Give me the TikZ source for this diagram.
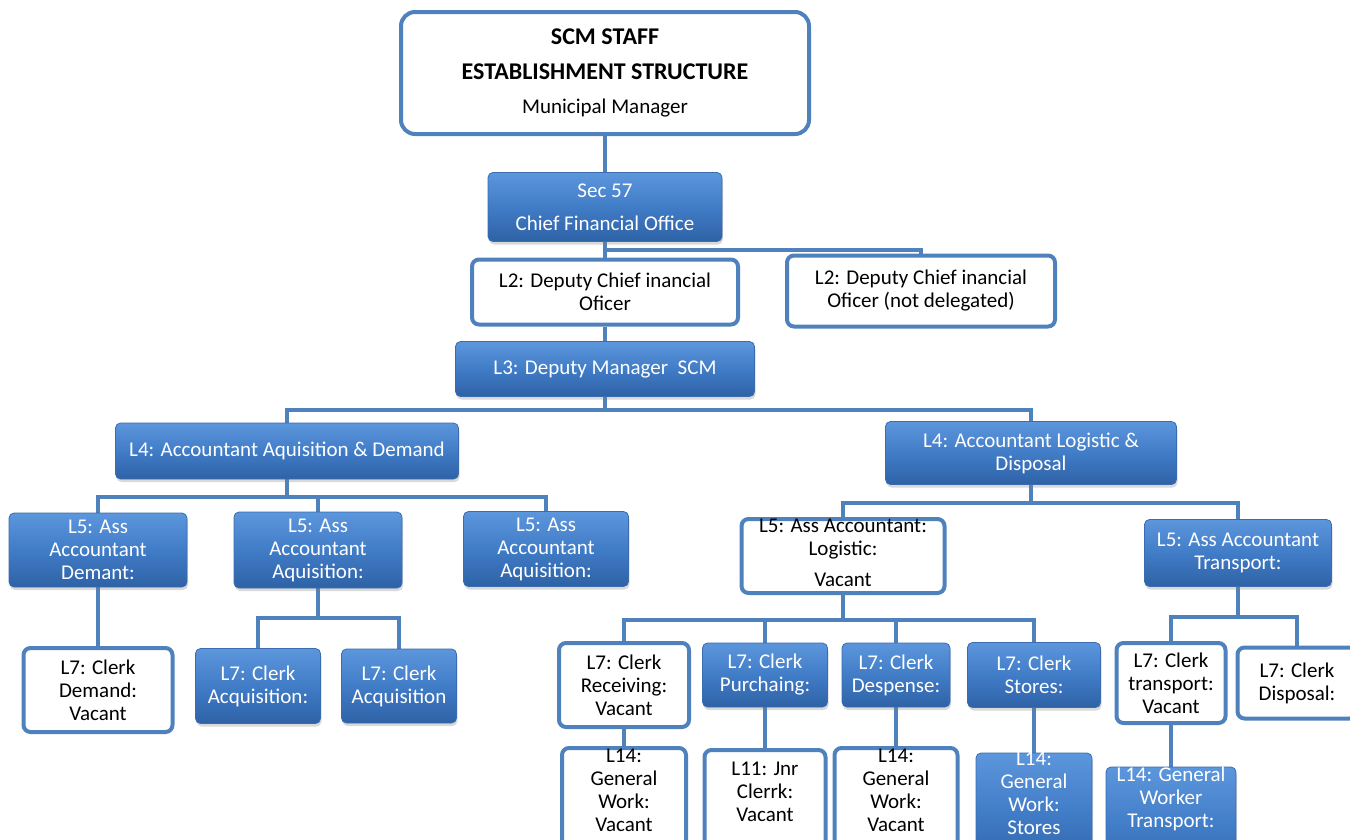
\documentclass[tikz,border=0pt]{standalone}
\usepackage{fontspec}
\setmainfont{Carlito}
\usetikzlibrary{shadows,backgrounds}
\definecolor{orgline}{RGB}{79,129,189}
\definecolor{orgtop}{RGB}{92,150,220}
\definecolor{orgmid}{RGB}{65,124,199}
\definecolor{orgbot}{RGB}{46,98,166}
\definecolor{orgedge}{RGB}{58,108,175}
\tikzset{
  wbox/.style={draw=orgline, line width=4pt, fill=white, rounded corners=7pt, align=center, inner sep=2pt},
  bbox/.style={draw=orgedge, line width=0.8pt, top color=orgtop, bottom color=orgbot, middle color=orgmid, text=white,
    rounded corners=5pt, align=center, inner sep=2pt,
    drop shadow={shadow xshift=1pt, shadow yshift=-3pt, opacity=0.3}},
  link/.style={draw=orgline, line width=4.5pt},
  lbl/.style={align=center, inner sep=0pt},
}
\begin{document}
\begin{tikzpicture}[x=1pt,y=-1pt,font=\fontsize{21}{23}\selectfont]
        \useasboundingbox (0,0) rectangle (1350,839);
        \clip (0,0) rectangle (1350,839);
        \node[wbox, rounded corners=14pt, minimum width=408, minimum height=122, font=\fontsize{24}{34.5}\selectfont] (mm) at (605,73)
            {\textbf{SCM STAFF}\\\textbf{ESTABLISHMENT STRUCTURE}\\{\fontsize{21}{34.5}\selectfont Municipal Manager}};
        \node[bbox, minimum width=234, minimum height=69, font=\fontsize{21}{33}\selectfont] (cfo) at (605,207) {Sec 57\\Chief Financial Office};
        \node[wbox, minimum width=266, minimum height=65] (dcfo) at (605,292) {L2: Deputy Chief inancial\\Oficer};
        \node[wbox, minimum width=268, minimum height=71] (dcfond) at (921,291) {L2: Deputy Chief inancial\\Oficer (not delegated)};
        \node[bbox, minimum width=299, minimum height=55] (dmscm) at (605,369) {L3: Deputy Manager\ \ SCM};
        \node[bbox, minimum width=343, minimum height=56] (acqdem) at (287,451) {L4: Accountant Aquisition \& Demand};
        \node[bbox, minimum width=291, minimum height=63] (logdis) at (1031,453) {L4: Accountant Logistic \&\\Disposal};
        \node[bbox, minimum width=178, minimum height=74] (asdem) at (98,550) {L5: Ass\\Accountant\\Demant:};
        \node[bbox, minimum width=168, minimum height=76] (asacq) at (318,550) {L5: Ass\\Accountant\\Aquisition:};
        \node[bbox, minimum width=165, minimum height=75] (asacqb) at (546,549) {L5: Ass\\Accountant\\Aquisition:};
        \node[wbox, minimum width=149, minimum height=84] (ckdem) at (98,690) {L7: Clerk\\Demand:\\Vacant};
        \node[bbox, minimum width=125, minimum height=75] (ckacq) at (258,686) {L7: Clerk\\Acquisition:};
        \node[bbox, minimum width=115, minimum height=74] (ckacqb) at (399,686) {L7: Clerk\\Acquisition};
        \node[wbox, minimum width=203, minimum height=74] (aslog) at (843,556) {};
        \node[lbl] (aslogt) at (843,553) {L5: Ass Accountant:\\Logistic:\\[8pt]Vacant};
        \node[bbox, minimum width=187, minimum height=67] (astrn) at (1238,553) {L5: Ass Accountant\\Transport:};
        \node[wbox, minimum width=130, minimum height=84] (ckrec) at (624,685) {L7: Clerk\\Receiving:\\Vacant};
        \node[bbox, minimum width=125, minimum height=64] (ckpur) at (765,675) {L7: Clerk\\Purchaing:};
        \node[bbox, minimum width=108, minimum height=64] (ckdes) at (896,675) {L7: Clerk\\Despense:};
        \node[bbox, minimum width=133, minimum height=65] (ckst) at (1034,675) {L7: Clerk\\Stores:};
        \node[wbox, minimum width=109, minimum height=80] (cktrn) at (1171,683) {L7: Clerk\\transport:\\Vacant};
        \node[wbox, minimum width=119, minimum height=71] (ckdis) at (1297,683) {L7: Clerk\\Disposal:};
        \node[wbox, minimum width=124, minimum height=120] (gwrec) at (624,808) {};
        \node[lbl] (gwrect) at (624,790) {L14:\\General\\Work:\\Vacant};
        \node[wbox, minimum width=121, minimum height=120] (jnr) at (765,810) {};
        \node[lbl] (jnrt) at (765,792) {L11: Jnr\\Clerrk:\\Vacant};
        \node[wbox, minimum width=123, minimum height=120] (gwdes) at (896,808) {};
        \node[lbl] (gwdest) at (896,790) {L14:\\General\\Work:\\Vacant};
        \node[bbox, minimum width=116, minimum height=120] (gwst) at (1034,813) {};
        \node[lbl, text=white] (gwstt) at (1034,793) {L14:\\General\\Work:\\Stores};
        \node[bbox, minimum width=130, minimum height=120] (gwtr) at (1171,827) {};
        \node[lbl, text=white] (gwtrt) at (1171,799) {L14: General\\Worker\\Transport:};
        \coordinate (j1) at (0,250);
        \coordinate (j2) at (0,410);
        \coordinate (j3) at (0,497);
        \coordinate (j4) at (0,503);
        \coordinate (j5) at (0,618);
        \coordinate (j6) at (0,620);
        \coordinate (j7) at (0,617);
        \begin{scope}[on background layer]
            \draw[link] (mm.south) -- (cfo.north);
            \draw[link] (cfo.south) -- (dcfo.north);
            \draw[link] (cfo.south |- j1) -| (dcfond.north);
            \draw[link] (dcfo.south) -- (dmscm.north);
            \draw[link] (dmscm.south) -- (dmscm.south |- j2);
            \draw[link] (acqdem.north) |- (logdis.north |- j2) -- (logdis.north);
            \draw[link] (acqdem.south) -- (acqdem.south |- j3);
            \draw[link] (asdem.north) |- (asacqb.north |- j3) -- (asacqb.north);
            \draw[link] (asacq.north) -- (asacq.north |- j3);
            \draw[link] (asdem.south) -- (ckdem.north);
            \draw[link] (asacq.south) -- (asacq.south |- j5);
            \draw[link] (ckacq.north) |- (ckacqb.north |- j5) -- (ckacqb.north);
            \draw[link] (logdis.south) -- (logdis.south |- j4);
            \draw[link] (aslog.north) |- (astrn.north |- j4) -- (astrn.north);
            \draw[link] (aslog.south) -- (aslog.south |- j6);
            \draw[link] (ckrec.north) |- (ckst.north |- j6) -- (ckst.north);
            \draw[link] (ckpur.north) -- (ckpur.north |- j6);
            \draw[link] (ckdes.north) -- (ckdes.north |- j6);
            \draw[link] (astrn.south) -- (astrn.south |- j7);
            \draw[link] (cktrn.north) |- (ckdis.north |- j7) -- (ckdis.north);
            \draw[link] (ckrec.south) -- (gwrec.north);
            \draw[link] (ckpur.south) -- (jnr.north);
            \draw[link] (ckdes.south) -- (gwdes.north);
            \draw[link] (ckst.south) -- (gwst.north);
            \draw[link] (cktrn.south) -- (gwtr.north);
        \end{scope}
\end{tikzpicture}
\end{document}
